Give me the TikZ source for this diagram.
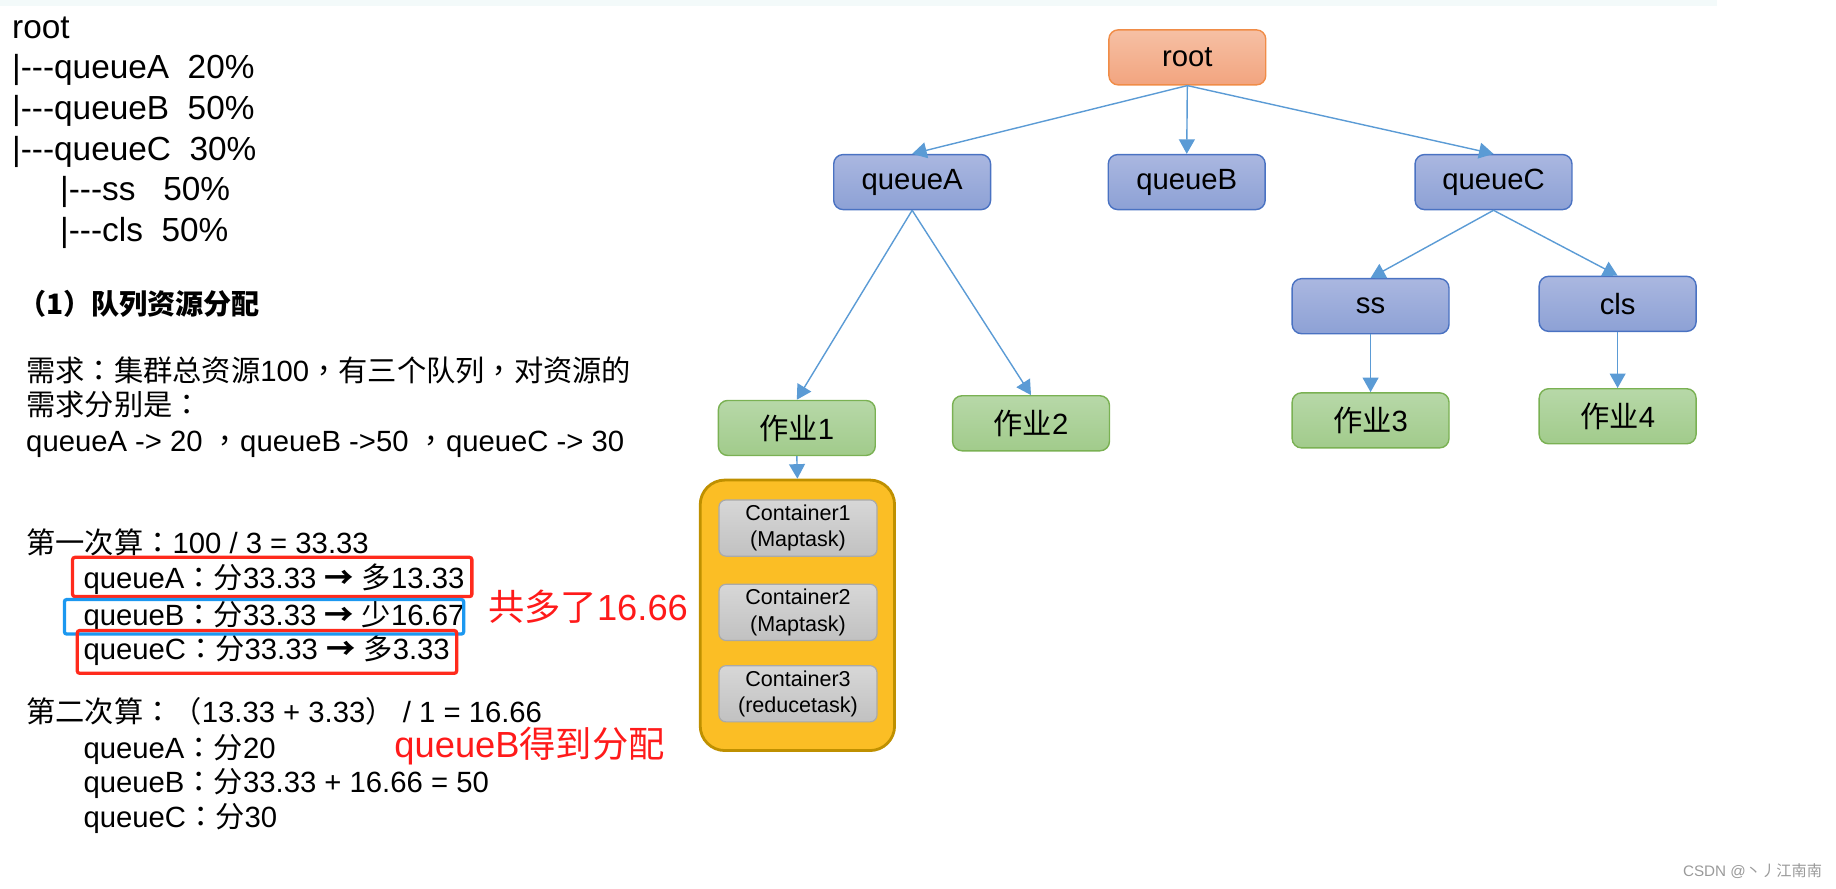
\documentclass[tikz,border=0pt]{standalone}
\usepackage{fontspec}
\setmainfont{Liberation Sans}
\newfontfamily\cjk{Noto Sans CJK SC}
\newfontfamily\cjkp{Noto Sans CJK TC}
\newcommand{\zh}[1]{{\cjk #1}}
\newcommand{\zp}[1]{{\cjkp #1}}
\newcommand{\rarr}{{\cjk\bfseries →}}
\usetikzlibrary{arrows.meta}
\definecolor{arrowblue}{HTML}{5B9BD5}
\definecolor{rtop}{HTML}{F6C0A4}
\definecolor{rbot}{HTML}{F2A47F}
\definecolor{rborder}{HTML}{F08C47}
\definecolor{qtop}{HTML}{AAB7E0}
\definecolor{qbot}{HTML}{8DA1D5}
\definecolor{qborder}{HTML}{4A72C2}
\definecolor{jtop}{HTML}{B7D8A8}
\definecolor{jbot}{HTML}{A1CB8B}
\definecolor{jborder}{HTML}{7AB153}
\definecolor{ctop}{HTML}{D7D7D7}
\definecolor{cbot}{HTML}{C1C1C1}
\definecolor{cborder}{HTML}{A9A9A9}
\definecolor{yfill}{HTML}{FBBE25}
\definecolor{yborder}{HTML}{BF9000}
\definecolor{hlred}{HTML}{FF2A1C}
\definecolor{hlblue}{HTML}{1C98F0}
\definecolor{redtxt}{HTML}{FF1A1A}
\definecolor{wm}{HTML}{9A9A9A}
\definecolor{band}{HTML}{F3FAFA}
\begin{document}
\begin{tikzpicture}[x=0.5pt,y=-0.5pt,
  tbox/.style={rounded corners=4pt, minimum width=67pt, minimum height=23.5pt, inner sep=0pt, line width=0.6pt, font=\fontsize{12.5}{15}\selectfont},
  rbox/.style={tbox, draw=rborder, top color=rtop, bottom color=rbot},
  qbox/.style={tbox, draw=qborder, top color=qtop, bottom color=qbot},
  jbox/.style={tbox, draw=jborder, top color=jtop, bottom color=jbot},
  cbox/.style={rounded corners=3pt, minimum width=67.5pt, minimum height=24pt, inner sep=0pt, line width=0.5pt, draw=cborder, top color=ctop, bottom color=cbot, align=center, font=\fontsize{9.2}{11.2}\selectfont},
  grpbox/.style={rounded corners=10.5pt, minimum width=83pt, minimum height=115.5pt, draw=yborder, fill=yfill, line width=1.2pt},
  arr/.style={draw=arrowblue, line width=0.6pt, -{Triangle[length=6.2pt,width=6.8pt]}},
  treetxt/.style={anchor=base west, inner sep=0pt, font=\fontsize{14.25}{17}\selectfont},
  bodytxt/.style={anchor=base west, inner sep=0pt, font=\fontsize{12.5}{15}\selectfont},
  redtxtst/.style={anchor=base west, inner sep=0pt, text=redtxt, font=\fontsize{15.5}{18}\selectfont},
  hlbox/.style={line width=1.4pt, rounded corners=1pt}
]
\useasboundingbox (0,0) rectangle (1568,759);
\fill[band] (0,0) rectangle (1466,5);

% left: queue tree as text
\node[treetxt] (l0) at (10,32.7) {root};
\node[treetxt] (l1) at (10,67) {|-{}-{}-queueA\ \ 20\%};
\node[treetxt] (l2) at (10,102) {|-{}-{}-queueB\ \ 50\%};
\node[treetxt] (l3) at (10,136.7) {|-{}-{}-queueC\ \ 30\%};
\node[treetxt] (l4) at (51,171) {|-{}-{}-ss\ \ \ 50\%};
\node[treetxt] (l5) at (51,206) {|-{}-{}-cls\ \ 50\%};

\node[anchor=base west, inner sep=0pt, font=\cjk\bfseries\fontsize{12}{14}\selectfont] (hdr) at (15,269) {（1）队列资源分配};

\node[bodytxt] (d1) at (22,326) {\zh{需求}\zp{：}\zh{集群总资源}100\zp{，}\zh{有三个队列}\zp{，}\zh{对资源的}};
\node[bodytxt] (d2) at (22,355) {\zh{需求分别是}\zp{：}};
\node[bodytxt] (d3) at (22,385.7) {queueA -> 20 \zp{，}queueB ->50 \zp{，}queueC -> 30};

\node[bodytxt] (f0) at (22,472.6) {\zh{第一次算}\zp{：}100 / 3 = 33.33};
\node[bodytxt] (f1) at (71,503) {queueA\zp{：}\zh{分}33.33 \rarr\ \zh{多}13.33};
\node[bodytxt] (f2) at (71,533.8) {queueB\zp{：}\zh{分}33.33 \rarr\ \zh{少}16.67};
\node[bodytxt] (f3) at (71,563) {queueC\zp{：}\zh{分}33.33 \rarr\ \zh{多}3.33};

\draw[hlbox, hlred] (62,476) rectangle (403,509.5);
\draw[hlbox, hlblue] (55,512) rectangle (396,541.5);
\draw[hlbox, hlred] (66,538.5) rectangle (390,575);

\node[redtxtst] (extra) at (416.5,530) {\zh{共多了}16.66};

\node[bodytxt] (s0) at (22,617) {\zh{第二次算}\zp{：}\zh{（}13.33 + 3.33\zh{）}\ / 1 = 16.66};
\node[bodytxt] (s1) at (71,648) {queueA\zp{：}\zh{分}20};
\node[bodytxt] (s2) at (71,677) {queueB\zp{：}\zh{分}33.33 + 16.66 = 50};
\node[bodytxt] (s3) at (71,707) {queueC\zp{：}\zh{分}30};

\node[redtxtst] (got) at (336.5,646.7) {queueB\zh{得到分配}};

% right: tree diagram
\node[rbox] (root) at (1014,49) {root};
\node[qbox] (qA) at (779,155.5) {queueA};
\node[qbox] (qB) at (1013.5,155.5) {queueB};
\node[qbox] (qC) at (1275.5,155.5) {queueC};
\node[qbox] (ss) at (1170.5,261.5) {ss};
\node[qbox] (cls) at (1381.5,259.5) {cls};
\node[jbox] (j1) at (680.5,365.5) {\zh{作业}1};
\node[jbox] (j2) at (880.5,361.5) {\zh{作业}2};
\node[jbox] (j3) at (1170.5,359) {\zh{作业}3};
\node[jbox] (j4) at (1381.5,355.5) {\zh{作业}4};

\node[grpbox] (grp) at (681,525.5) {};
\node[cbox] (c1) at (681.5,451) {Container1\\(Maptask)};
\node[cbox] (c2) at (681.5,523) {Container2\\(Maptask)};
\node[cbox] (c3) at (681.5,592.5) {Container3\\(reducetask)};

\draw[arr] (root.south) -- (qA.north);
\draw[arr] (root.south) -- (qB.north);
\draw[arr] (root.south) -- (qC.north);
\draw[arr] (qA.south) -- (j1.north);
\draw[arr] (qA.south) -- (j2.north);
\draw[arr] (qC.south) -- (ss.north);
\draw[arr] (qC.south) -- (cls.north);
\draw[arr] (ss.south) -- (j3.north);
\draw[arr] (cls.south) -- (j4.north);
\draw[arr] (j1.south) -- (grp.north);

\node[anchor=base west, inner sep=0pt, text=wm, font=\fontsize{6.5}{8}\selectfont] (wmk) at (1437,748.5) {CSDN @\zh{丶丿江南南}};
\end{tikzpicture}
\end{document}
